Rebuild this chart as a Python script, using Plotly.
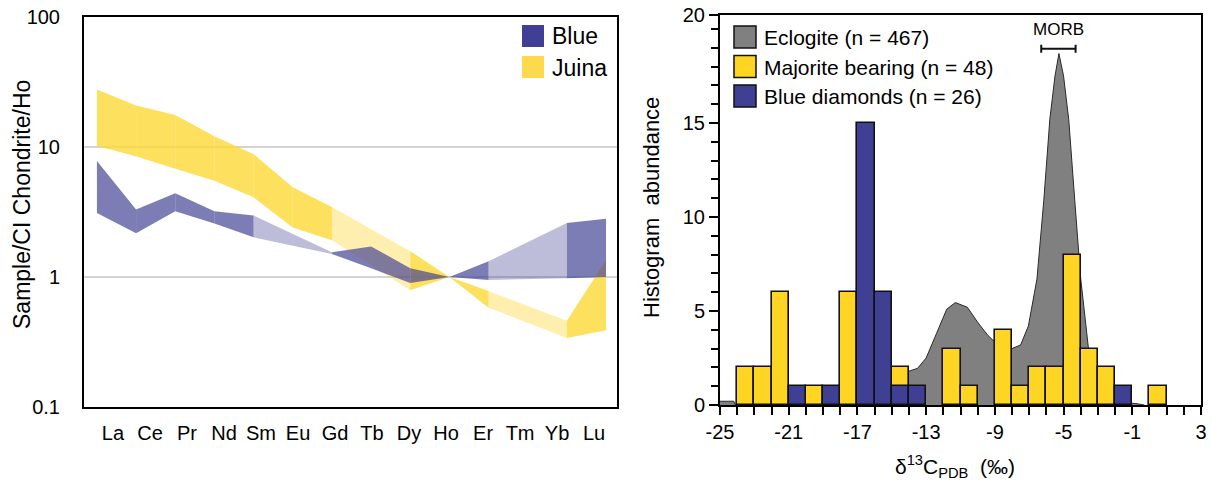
import plotly.graph_objects as go

# ---------------- data: left panel (REE patterns, normalised to CI chondrite / Ho) -------------
elements = ["La", "Ce", "Pr", "Nd", "Sm", "Eu", "Gd", "Tb", "Dy", "Ho", "Er", "Tm", "Yb", "Lu"]
juina_upper = [27.7, 20.9, 17.6, 12.1, 8.8, 4.9, 3.45, None, 1.58, 1.0, 0.78, None, 0.46, 1.35]
juina_lower = [10.2, 8.5, 6.8, 5.5, 4.1, 2.4, 1.92, None, 0.79, 1.0, 0.58, None, 0.34, 0.39]
blue_upper = [7.8, 3.3, 4.4, 3.2, 2.97, None, 1.55, 1.72, 1.17, 1.0, 1.32, None, 2.6, 2.8]
blue_lower = [3.1, 2.17, 3.2, 2.58, 2.02, None, 1.5, 1.17, 0.9, 1.0, 0.95, None, 0.98, 1.0]
left_yticks = [0.1, 1, 10, 100]
left_yticktext = ["0.1", "1", "10", "100"]

# ---------------- data: right panel (carbon isotope histogram) -------------
bin_left = list(range(-24, 1))  # 1 per-mil bins, left edges
majorite_counts = [2, 2, 6, 0, 1, 0, 6, 0, 0, 2, 0, 0, 3, 1, 0, 4, 1, 2, 2, 8, 3, 2, 0, 0, 1]
blue_counts = [0, 0, 0, 1, 0, 1, 0, 15, 6, 1, 1, 0, 0, 0, 0, 0, 0, 0, 0, 0, 0, 0, 1, 0, 0]
eclogite_x = [-25.1, -24.2, -24.1, -19.0, -18.5, -18.0, -17.0, -16.0, -15.0, -14.3, -14.0, -13.5,
              -13.0, -12.4, -11.8, -11.3, -10.6, -10.0, -9.4, -9.0, -8.4, -8.0, -7.5, -7.05, -6.75,
              -6.55, -6.15, -5.8, -5.5, -5.27, -5.0, -4.7, -4.35, -4.0, -3.55, -3.2, -2.7, -2.0,
              -1.2, -0.8, -0.3]
eclogite_y = [0.2, 0.2, 0.0, 0.0, 0.3, 1.0, 1.3, 1.5, 1.7, 1.75, 1.8, 1.95,
              2.5, 3.8, 5.1, 5.45, 5.2, 4.4, 3.7, 3.35, 3.0, 3.0, 3.2, 4.2, 5.6,
              6.7, 10.9, 15.2, 17.5, 18.7, 17.5, 15.2, 10.9, 6.7, 3.0, 1.5, 0.4, 0.15,
              0.1, 0.08, 0.0]
morb_range = [-6.3, -4.3]
morb_level = 18.95
right_xticks = [-25, -21, -17, -13, -9, -5, -1, 3]
right_yticks = [0, 5, 10, 15, 20.75]
right_yticktext = ["0", "5", "10", "15", "20"]
legend_right = ["Eclogite (n = 467)", "Majorite bearing (n = 48)", "Blue diamonds (n = 26)"]
legend_left = ["Blue", "Juina"]

# ---------------- styling -------------
FONT = "Liberation Sans, Arial, sans-serif"
W, H = 1212, 481
BLUE = "#3F3F94"
YELLOW_BAR = "#FFD524"
GRAY = "#808080"


def px(x):
    return x / W


def py(y):
    return 1 - y / H


def rgba(hexcol, a):
    h = hexcol.lstrip("#")
    r, g, b = int(h[0:2], 16), int(h[2:4], 16), int(h[4:6], 16)
    return f"rgba({r},{g},{b},{a})"


fig = go.Figure()


def add_band(upper, lower, base, dark_a, light_a):
    present = [i for i, v in enumerate(upper) if v is not None]
    for a, b in zip(present, present[1:]):
        alpha = light_a if b - a > 1 else dark_a
        fig.add_trace(go.Scatter(
            x=[a, b, b, a, a],
            y=[upper[a], upper[b], lower[b], lower[a], upper[a]],
            mode="lines", fill="toself", fillcolor=rgba(base, alpha),
            line=dict(width=0), hoverinfo="skip", showlegend=False,
            xaxis="x", yaxis="y"))


add_band(juina_upper, juina_lower, "#FDD835", 0.8, 0.4)
add_band(blue_upper, blue_lower, BLUE, 0.68, 0.34)

# eclogite distribution (base axes of right panel, drawn underneath)
fig.add_trace(go.Scatter(
    x=eclogite_x, y=eclogite_y, mode="lines", fill="tozeroy", fillcolor=GRAY,
    line=dict(color="#2a2a2a", width=1), showlegend=False, hoverinfo="skip",
    xaxis="x2", yaxis="y2"))

# histogram bars (overlay axes so they sit on top of the filled curve)
fig.add_trace(go.Bar(
    x=bin_left, y=[c if c else None for c in majorite_counts], width=1, offset=0,
    marker=dict(color=YELLOW_BAR, line=dict(color="#111111", width=1.6)),
    showlegend=False, xaxis="x3", yaxis="y3"))
fig.add_trace(go.Bar(
    x=bin_left, y=[c if c else None for c in blue_counts], width=1, offset=0,
    marker=dict(color=BLUE, line=dict(color="#111111", width=1.6)),
    showlegend=False, xaxis="x3", yaxis="y3"))

# MORB range bar
morb_mid = (morb_range[0] + morb_range[1]) / 2
fig.add_trace(go.Scatter(
    x=[morb_mid], y=[morb_level], mode="markers", marker=dict(size=1, opacity=0),
    error_x=dict(type="data", array=[(morb_range[1] - morb_range[0]) / 2],
                 color="#111111", thickness=2, width=4),
    showlegend=False, hoverinfo="skip", xaxis="x3", yaxis="y3"))

left_dom_x = [px(84), px(617)]
left_dom_y = [py(407), py(17)]
right_dom_x = [px(720), px(1201)]
right_dom_y = [py(405), py(15)]

tickfont = dict(family=FONT, size=20, color="black")
xr = [-25, 3]
yr = [0, 20.75]
label_positions = [0.41 + 0.945 * i for i in range(len(elements))]

fig.update_layout(
    width=W, height=H, margin=dict(l=0, r=0, t=0, b=0, autoexpand=False),
    paper_bgcolor="white", plot_bgcolor="white",
    barmode="overlay", bargap=0,
    font=dict(family=FONT, size=20, color="black"),
    xaxis=dict(domain=left_dom_x, range=[-0.33, 13.28], anchor="y", automargin=False,
               tickmode="array", tickvals=label_positions, ticktext=elements,
               ticks="outside", ticklen=7, tickcolor="rgba(0,0,0,0)",
               showgrid=False, zeroline=False, showline=True, mirror=True,
               linecolor="black", linewidth=2, tickfont=tickfont),
    yaxis=dict(domain=left_dom_y, type="log", range=[-1, 2], anchor="x", automargin=False,
               tickmode="array", tickvals=left_yticks, ticktext=left_yticktext,
               ticks="outside", ticklen=18, tickcolor="rgba(0,0,0,0)",
               showgrid=True, gridcolor="#D4D4D4", gridwidth=2, zeroline=False,
               showline=True, mirror=True, linecolor="black", linewidth=2,
               tickfont=tickfont),
    xaxis2=dict(domain=right_dom_x, range=xr, anchor="y2", automargin=False,
                tickmode="array", tickvals=right_xticks,
                ticktext=[str(v) for v in right_xticks],
                ticks="outside", ticklen=8, tickwidth=2, tickcolor="black",
                minor=dict(tickmode="linear", tick0=-25, dtick=1, ticks="outside", ticklen=8,
                           tickwidth=2, tickcolor="black"),
                showgrid=False, zeroline=False, showline=True, mirror=True,
                linecolor="black", linewidth=2, tickfont=tickfont),
    yaxis2=dict(domain=right_dom_y, range=yr, anchor="x2", automargin=False,
                tickmode="array", tickvals=right_yticks, ticktext=right_yticktext,
                ticks="outside", ticklen=9, tickwidth=2, tickcolor="black",
                minor=dict(tickmode="linear", tick0=0, dtick=1, ticks="outside",
                           ticklen=7, tickwidth=2, tickcolor="black"),
                showgrid=False, zeroline=False, showline=True, mirror=True,
                linecolor="black", linewidth=2, tickfont=tickfont),
    xaxis3=dict(overlaying="x2", range=xr, anchor="y3", visible=False, automargin=False),
    yaxis3=dict(overlaying="y2", range=yr, anchor="x3", visible=False, automargin=False),
)

shapes = []
annotations = []

# left legend
for i, (name, col) in enumerate(zip(legend_left, [BLUE, "#FDD94E"])):
    top = 25 + 31 * i
    shapes.append(dict(type="rect", xref="paper", yref="paper",
                       x0=px(522), x1=px(544), y0=py(top + 22), y1=py(top),
                       fillcolor=col, line=dict(width=0)))
    annotations.append(dict(text=name, xref="paper", yref="paper",
                            x=px(550), y=py(top + 11.5), xanchor="left", yanchor="middle",
                            showarrow=False, font=dict(family=FONT, size=23, color="black")))

# right legend
for i, (name, col) in enumerate(zip(legend_right, [GRAY, YELLOW_BAR, BLUE])):
    top = 26 + 29.5 * i
    shapes.append(dict(type="rect", xref="paper", yref="paper",
                       x0=px(734), x1=px(756), y0=py(top + 22), y1=py(top),
                       fillcolor=col, line=dict(color="#111111", width=1.5)))
    annotations.append(dict(text=name, xref="paper", yref="paper",
                            x=px(762), y=py(top + 11.5), xanchor="left", yanchor="middle",
                            showarrow=False, font=dict(family=FONT, size=21, color="black")))

# MORB label
annotations.append(dict(text="MORB", xref="x3", yref="y3", x=morb_mid, y=morb_level,
                        yshift=19, showarrow=False,
                        font=dict(family=FONT, size=17, color="black")))

# axis titles
annotations.append(dict(text="Sample/CI Chondrite/Ho", xref="paper", yref="paper",
                        x=px(22), y=py(205), textangle=-90, showarrow=False,
                        xanchor="center", yanchor="middle",
                        font=dict(family=FONT, size=23, color="black")))
annotations.append(dict(text="Histogram  abundance", xref="paper", yref="paper",
                        x=px(651), y=py(208), textangle=-90, showarrow=False,
                        xanchor="center", yanchor="middle",
                        font=dict(family=FONT, size=22, color="black")))
annotations.append(dict(text="δ<sup>13</sup>C<sub>PDB</sub>  (‰)", xref="paper", yref="paper",
                        x=px(955), y=py(466), showarrow=False,
                        xanchor="center", yanchor="middle",
                        font=dict(family=FONT, size=21, color="black")))

fig.update_layout(shapes=shapes, annotations=annotations)

fig.write_html("out.html")
